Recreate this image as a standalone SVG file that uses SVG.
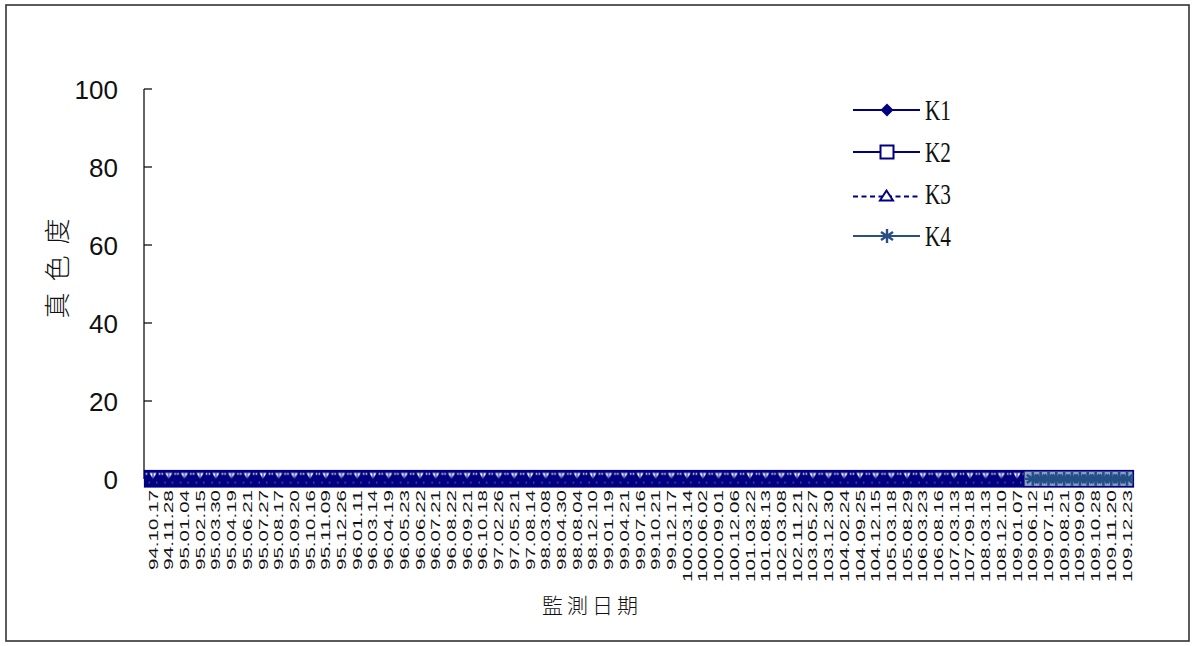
<svg xmlns="http://www.w3.org/2000/svg" width="1195" height="646" viewBox="0 0 1195 646">
<style>
.yl{font-family:"Liberation Sans",Arial,sans-serif;font-size:26px;fill:#111;text-anchor:end}
.xl{font-family:"Liberation Sans",Arial,sans-serif;font-size:13px;fill:#111;text-anchor:end}
.lg{font-family:"Liberation Serif","Times New Roman",serif;font-size:30px;fill:#111}
.cjk{font-family:"Noto Sans CJK TC","Noto Sans CJK SC",sans-serif;font-weight:300;fill:#111}
.ax{stroke:#111;stroke-width:1.3;fill:none}
</style>
<defs>
<pattern id="band" patternUnits="userSpaceOnUse" x="145.145" y="470.5" width="15.71" height="17">
<rect width="15.71" height="17" fill="#000080"/>
<polygon points="4.3,2.6 11.4,2.6 7.85,8.2" fill="#fff"/>
<line x1="7.85" y1="2.4" x2="7.85" y2="8.4" stroke="#000080" stroke-width="1"/>
<rect x="0.6" y="2.6" width="1.6" height="1.6" fill="#fff"/>
<rect x="13.5" y="2.6" width="1.6" height="1.6" fill="#fff"/>
<rect x="3.6" y="11.6" width="1" height="1" fill="#c8c8e8"/>
<rect x="11.1" y="11.6" width="1" height="1" fill="#c8c8e8"/>
</pattern>
<g id="star">
<line x1="0" y1="-7" x2="0" y2="7"/>
<line x1="-6" y1="-4" x2="6" y2="4"/>
<line x1="-6" y1="4" x2="6" y2="-4"/>
</g>
</defs>
<rect id="frame" x="6" y="5" width="1183" height="636" fill="#fff" stroke="#333" stroke-width="1.6"/>

<g id="y-axis">
<line class="ax" x1="144" y1="89" x2="144" y2="479"/>
<line class="ax" x1="144" y1="89" x2="152" y2="89"/>
<line class="ax" x1="144" y1="167" x2="152" y2="167"/>
<line class="ax" x1="144" y1="245" x2="152" y2="245"/>
<line class="ax" x1="144" y1="323" x2="152" y2="323"/>
<line class="ax" x1="144" y1="401" x2="152" y2="401"/>
<text class="yl" x="118" y="99">100</text>
<text class="yl" x="118" y="177">80</text>
<text class="yl" x="118" y="255">60</text>
<text class="yl" x="118" y="333">40</text>
<text class="yl" x="118" y="411">20</text>
<text class="yl" x="118" y="489">0</text>
<text class="cjk" transform="translate(67,263) rotate(-90)" text-anchor="middle" font-size="26" letter-spacing="11">真色度</text>
</g>

<g id="series">
<rect x="144.5" y="470.5" width="989" height="16.5" fill="url(#band)" stroke="#000080" stroke-width="1.2"/>
<rect x="1024" y="471" width="109" height="15.5" fill="#8a9fc2" stroke="#000080" stroke-width="1.2"/>
<line x1="1024" y1="478.8" x2="1133" y2="478.8" stroke="#2a4f85" stroke-width="2.2"/>
<g stroke="#244f86" stroke-width="2.6">
<use href="#star" x="1032.8" y="478.8"/>
<use href="#star" x="1048.5" y="478.8"/>
<use href="#star" x="1064.2" y="478.8"/>
<use href="#star" x="1079.9" y="478.8"/>
<use href="#star" x="1095.6" y="478.8"/>
<use href="#star" x="1111.3" y="478.8"/>
<use href="#star" x="1127" y="478.8"/>
<use href="#star" x="1040.6" y="478.8"/>
<use href="#star" x="1056.3" y="478.8"/>
<use href="#star" x="1072" y="478.8"/>
<use href="#star" x="1087.7" y="478.8"/>
<use href="#star" x="1103.4" y="478.8"/>
<use href="#star" x="1119.1" y="478.8"/>
</g>
</g>

<g id="x-labels">
<text class="xl" textLength="80" lengthAdjust="spacingAndGlyphs" transform="translate(157.5,490) rotate(-90)">94.10.17</text>
<text class="xl" textLength="80" lengthAdjust="spacingAndGlyphs" transform="translate(173.2,490) rotate(-90)">94.11.28</text>
<text class="xl" textLength="80" lengthAdjust="spacingAndGlyphs" transform="translate(188.9,490) rotate(-90)">95.01.04</text>
<text class="xl" textLength="80" lengthAdjust="spacingAndGlyphs" transform="translate(204.6,490) rotate(-90)">95.02.15</text>
<text class="xl" textLength="80" lengthAdjust="spacingAndGlyphs" transform="translate(220.3,490) rotate(-90)">95.03.30</text>
<text class="xl" textLength="80" lengthAdjust="spacingAndGlyphs" transform="translate(236.1,490) rotate(-90)">95.04.19</text>
<text class="xl" textLength="80" lengthAdjust="spacingAndGlyphs" transform="translate(251.8,490) rotate(-90)">95.06.21</text>
<text class="xl" textLength="80" lengthAdjust="spacingAndGlyphs" transform="translate(267.5,490) rotate(-90)">95.07.27</text>
<text class="xl" textLength="80" lengthAdjust="spacingAndGlyphs" transform="translate(283.2,490) rotate(-90)">95.08.17</text>
<text class="xl" textLength="80" lengthAdjust="spacingAndGlyphs" transform="translate(298.9,490) rotate(-90)">95.09.20</text>
<text class="xl" textLength="80" lengthAdjust="spacingAndGlyphs" transform="translate(314.6,490) rotate(-90)">95.10.16</text>
<text class="xl" textLength="80" lengthAdjust="spacingAndGlyphs" transform="translate(330.3,490) rotate(-90)">95.11.09</text>
<text class="xl" textLength="80" lengthAdjust="spacingAndGlyphs" transform="translate(346,490) rotate(-90)">95.12.26</text>
<text class="xl" textLength="80" lengthAdjust="spacingAndGlyphs" transform="translate(361.7,490) rotate(-90)">96.01.11</text>
<text class="xl" textLength="80" lengthAdjust="spacingAndGlyphs" transform="translate(377.4,490) rotate(-90)">96.03.14</text>
<text class="xl" textLength="80" lengthAdjust="spacingAndGlyphs" transform="translate(393.2,490) rotate(-90)">96.04.19</text>
<text class="xl" textLength="80" lengthAdjust="spacingAndGlyphs" transform="translate(408.9,490) rotate(-90)">96.05.23</text>
<text class="xl" textLength="80" lengthAdjust="spacingAndGlyphs" transform="translate(424.6,490) rotate(-90)">96.06.22</text>
<text class="xl" textLength="80" lengthAdjust="spacingAndGlyphs" transform="translate(440.3,490) rotate(-90)">96.07.21</text>
<text class="xl" textLength="80" lengthAdjust="spacingAndGlyphs" transform="translate(456,490) rotate(-90)">96.08.22</text>
<text class="xl" textLength="80" lengthAdjust="spacingAndGlyphs" transform="translate(471.7,490) rotate(-90)">96.09.21</text>
<text class="xl" textLength="80" lengthAdjust="spacingAndGlyphs" transform="translate(487.4,490) rotate(-90)">96.10.18</text>
<text class="xl" textLength="80" lengthAdjust="spacingAndGlyphs" transform="translate(503.1,490) rotate(-90)">97.02.26</text>
<text class="xl" textLength="80" lengthAdjust="spacingAndGlyphs" transform="translate(518.8,490) rotate(-90)">97.05.21</text>
<text class="xl" textLength="80" lengthAdjust="spacingAndGlyphs" transform="translate(534.5,490) rotate(-90)">97.08.14</text>
<text class="xl" textLength="80" lengthAdjust="spacingAndGlyphs" transform="translate(550.3,490) rotate(-90)">98.03.08</text>
<text class="xl" textLength="80" lengthAdjust="spacingAndGlyphs" transform="translate(566,490) rotate(-90)">98.04.30</text>
<text class="xl" textLength="80" lengthAdjust="spacingAndGlyphs" transform="translate(581.7,490) rotate(-90)">98.08.04</text>
<text class="xl" textLength="80" lengthAdjust="spacingAndGlyphs" transform="translate(597.4,490) rotate(-90)">98.12.10</text>
<text class="xl" textLength="80" lengthAdjust="spacingAndGlyphs" transform="translate(613.1,490) rotate(-90)">99.01.19</text>
<text class="xl" textLength="80" lengthAdjust="spacingAndGlyphs" transform="translate(628.8,490) rotate(-90)">99.04.21</text>
<text class="xl" textLength="80" lengthAdjust="spacingAndGlyphs" transform="translate(644.5,490) rotate(-90)">99.07.16</text>
<text class="xl" textLength="80" lengthAdjust="spacingAndGlyphs" transform="translate(660.2,490) rotate(-90)">99.10.21</text>
<text class="xl" textLength="80" lengthAdjust="spacingAndGlyphs" transform="translate(675.9,490) rotate(-90)">99.12.17</text>
<text class="xl" textLength="92" lengthAdjust="spacingAndGlyphs" transform="translate(691.6,490) rotate(-90)">100.03.14</text>
<text class="xl" textLength="92" lengthAdjust="spacingAndGlyphs" transform="translate(707.4,490) rotate(-90)">100.06.02</text>
<text class="xl" textLength="92" lengthAdjust="spacingAndGlyphs" transform="translate(723.1,490) rotate(-90)">100.09.01</text>
<text class="xl" textLength="92" lengthAdjust="spacingAndGlyphs" transform="translate(738.8,490) rotate(-90)">100.12.06</text>
<text class="xl" textLength="92" lengthAdjust="spacingAndGlyphs" transform="translate(754.5,490) rotate(-90)">101.03.22</text>
<text class="xl" textLength="92" lengthAdjust="spacingAndGlyphs" transform="translate(770.2,490) rotate(-90)">101.08.13</text>
<text class="xl" textLength="92" lengthAdjust="spacingAndGlyphs" transform="translate(785.9,490) rotate(-90)">102.03.08</text>
<text class="xl" textLength="92" lengthAdjust="spacingAndGlyphs" transform="translate(801.6,490) rotate(-90)">102.11.21</text>
<text class="xl" textLength="92" lengthAdjust="spacingAndGlyphs" transform="translate(817.3,490) rotate(-90)">103.05.27</text>
<text class="xl" textLength="92" lengthAdjust="spacingAndGlyphs" transform="translate(833,490) rotate(-90)">103.12.30</text>
<text class="xl" textLength="92" lengthAdjust="spacingAndGlyphs" transform="translate(848.7,490) rotate(-90)">104.02.24</text>
<text class="xl" textLength="92" lengthAdjust="spacingAndGlyphs" transform="translate(864.5,490) rotate(-90)">104.09.25</text>
<text class="xl" textLength="92" lengthAdjust="spacingAndGlyphs" transform="translate(880.2,490) rotate(-90)">104.12.15</text>
<text class="xl" textLength="92" lengthAdjust="spacingAndGlyphs" transform="translate(895.9,490) rotate(-90)">105.03.18</text>
<text class="xl" textLength="92" lengthAdjust="spacingAndGlyphs" transform="translate(911.6,490) rotate(-90)">105.08.29</text>
<text class="xl" textLength="92" lengthAdjust="spacingAndGlyphs" transform="translate(927.3,490) rotate(-90)">106.03.23</text>
<text class="xl" textLength="92" lengthAdjust="spacingAndGlyphs" transform="translate(943,490) rotate(-90)">106.08.16</text>
<text class="xl" textLength="92" lengthAdjust="spacingAndGlyphs" transform="translate(958.7,490) rotate(-90)">107.03.13</text>
<text class="xl" textLength="92" lengthAdjust="spacingAndGlyphs" transform="translate(974.4,490) rotate(-90)">107.09.18</text>
<text class="xl" textLength="92" lengthAdjust="spacingAndGlyphs" transform="translate(990.1,490) rotate(-90)">108.03.13</text>
<text class="xl" textLength="92" lengthAdjust="spacingAndGlyphs" transform="translate(1005.8,490) rotate(-90)">108.12.10</text>
<text class="xl" textLength="92" lengthAdjust="spacingAndGlyphs" transform="translate(1021.6,490) rotate(-90)">109.01.07</text>
<text class="xl" textLength="92" lengthAdjust="spacingAndGlyphs" transform="translate(1037.3,490) rotate(-90)">109.06.12</text>
<text class="xl" textLength="92" lengthAdjust="spacingAndGlyphs" transform="translate(1053,490) rotate(-90)">109.07.15</text>
<text class="xl" textLength="92" lengthAdjust="spacingAndGlyphs" transform="translate(1068.7,490) rotate(-90)">109.08.21</text>
<text class="xl" textLength="92" lengthAdjust="spacingAndGlyphs" transform="translate(1084.4,490) rotate(-90)">109.09.09</text>
<text class="xl" textLength="92" lengthAdjust="spacingAndGlyphs" transform="translate(1100.1,490) rotate(-90)">109.10.28</text>
<text class="xl" textLength="92" lengthAdjust="spacingAndGlyphs" transform="translate(1115.8,490) rotate(-90)">109.11.20</text>
<text class="xl" textLength="92" lengthAdjust="spacingAndGlyphs" transform="translate(1131.5,490) rotate(-90)">109.12.23</text>
</g>

<text id="x-title" class="cjk" x="592" y="613" text-anchor="middle" font-size="21" letter-spacing="4">監測日期</text>

<g id="legend">
<g id="leg-K1">
<line x1="853" y1="110" x2="920" y2="110" stroke="#000080" stroke-width="2.2"/>
<polygon points="887,103.5 893.5,110 887,116.5 880.5,110" fill="#000080"/>
<text class="lg" x="925" y="120" textLength="26" lengthAdjust="spacingAndGlyphs">K1</text>
</g>
<g id="leg-K2">
<line x1="853" y1="152" x2="920" y2="152" stroke="#000080" stroke-width="2.2"/>
<rect x="880.5" y="145.5" width="13" height="13" fill="#fff" stroke="#000080" stroke-width="2"/>
<text class="lg" x="925" y="162" textLength="26" lengthAdjust="spacingAndGlyphs">K2</text>
</g>
<g id="leg-K3">
<line x1="853" y1="196.5" x2="920" y2="196.5" stroke="#000080" stroke-width="2" stroke-dasharray="5,3.5"/>
<polygon points="886.5,190.5 893,200.5 880,200.5" fill="#fff" stroke="#000080" stroke-width="2"/>
<text class="lg" x="925" y="204" textLength="26" lengthAdjust="spacingAndGlyphs">K3</text>
</g>
<g id="leg-K4">
<line x1="853" y1="236" x2="920" y2="236" stroke="#2a4f85" stroke-width="2.2"/>
<use href="#star" x="887" y="236" stroke="#2a4f85" stroke-width="2.4"/>
<text class="lg" x="925" y="246" textLength="26" lengthAdjust="spacingAndGlyphs">K4</text>
</g>
</g>
</svg>
